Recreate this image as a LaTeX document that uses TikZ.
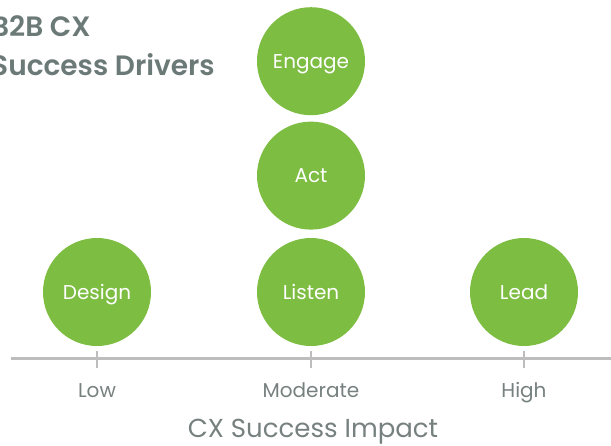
\documentclass[tikz,border=0pt]{standalone}
\usepackage{fontspec}
\setmainfont{Poppins}[BoldFont={Poppins SemiBold}]
\usetikzlibrary{positioning}
\definecolor{drivergreen}{HTML}{7CBD42}
\definecolor{axisgray}{HTML}{BDBDBD}
\definecolor{labelgray}{HTML}{76817F}
\definecolor{titlegray}{HTML}{6C7A77}

\begin{document}
\begin{tikzpicture}[
  x=1pt, y=-1pt,
  node distance=8pt,
  driver/.style={circle, fill=drivergreen, minimum size=108pt, inner sep=0pt, text=white,
    font=\fontsize{20}{24}\selectfont, text height=14pt, text depth=0pt},
  ticklabel/.style={text=labelgray, font=\fontsize{20}{24}\selectfont, anchor=base},
  axistitle/.style={text=labelgray, font=\fontsize{26}{30}\selectfont, anchor=base},
  heading/.style={text=titlegray, font=\fontsize{28}{36}\selectfont\bfseries, anchor=base west, inner sep=0pt},
  axis/.style={draw=axisgray, line width=2.5pt},
]
\useasboundingbox (0,0) rectangle (611,445);

\node[heading] (title1) at (-9,36.5) {B2B CX};
\node[heading] (title2) at (-9,75) {Success Drivers};

\node[driver] (design) at (97,292) {Design};
\node[driver] (listen) at (311,292) {Listen};
\node[driver] (lead) at (524,292) {Lead};
\node[driver, above=of listen] (act) {Act};
\node[driver, above=6pt of act] (engage) {Engage};

\coordinate (axisL) at (11,358.5);
\coordinate (axisR) at (611,358.5);
\draw[axis] (axisL) -- (axisR);
\foreach \x in {97,311,524}
  \draw[axis] (\x,351) -- (\x,368);

\node[ticklabel] (low) at (97,397) {Low};
\node[ticklabel] (moderate) at (311,397) {Moderate};
\node[ticklabel] (high) at (524,397) {High};
\node[axistitle] (impact) at (313,437) {CX Success Impact};
\end{tikzpicture}
\end{document}
